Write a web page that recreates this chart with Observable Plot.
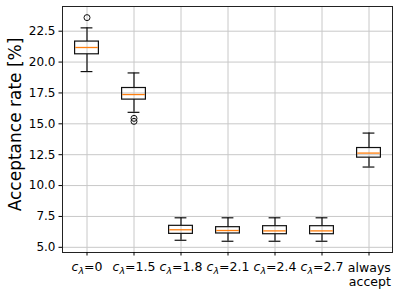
<!DOCTYPE html>
<html>
<head>
<meta charset="utf-8">
<script src="https://cdn.jsdelivr.net/npm/d3@7"></script>
<script src="https://cdn.jsdelivr.net/npm/@observablehq/plot@0.6"></script>
<style>
  html, body { margin: 0; padding: 0; background: white; }
  #chart svg { display: block; }
</style>
</head>
<body>
<div id="chart"></div>
<script>
// ---- data ----
const cValues = ["0", "1.5", "1.8", "2.1", "2.4", "2.7"];
const tickLabels = [...cValues.map(v => `c_λ=${v}`), "always\naccept"];
const lowWhisker  = [19.23, 15.93, 5.57, 5.49, 5.49, 5.49, 11.50];
const q1          = [20.63, 16.96, 6.09, 6.12, 6.06, 6.06, 12.26];
const median      = [21.18, 17.37, 6.42, 6.36, 6.33, 6.33, 12.63];
const q3          = [21.66, 17.90, 6.74, 6.63, 6.71, 6.71, 13.04];
const highWhisker = [22.77, 19.12, 7.39, 7.39, 7.39, 7.39, 14.25];
const outlierCat   = [0, 1, 1];
const outlierValue = [23.6, 15.44, 15.2];
const yTicks = [5.0, 7.5, 10.0, 12.5, 15.0, 17.5, 20.0, 22.5];
const yLabel = "Acceptance rate [%]";

// ---- tables for Plot ----
const stats = tickLabels.map((cat, i) => ({
  cat, lo: lowWhisker[i], q1: q1[i], med: median[i], q3: q3[i], hi: highWhisker[i]
}));
const outliers = outlierCat.map((c, i) => ({cat: tickLabels[c], v: outlierValue[i]}));

const boxInset = 11.6;
const capInset = 17.6;
const ink = "#111";

const chart = Plot.plot({
  width: 399,
  height: 293,
  marginLeft: 62,
  marginRight: 7,
  marginTop: 6,
  marginBottom: 41,
  style: {fontFamily: "DejaVu Sans", fontSize: "12px", background: "white", color: "#000"},
  x: {type: "band", domain: tickLabels, padding: 0},
  y: {domain: [4.58, 24.5]},
  marks: [
    Plot.gridY(yTicks, {stroke: "#c8c8c8", strokeOpacity: 1, strokeWidth: 1}),
    Plot.ruleX(tickLabels, {x: d => d, stroke: "#c8c8c8", strokeWidth: 1}),
    Plot.frame({stroke: "#222", strokeWidth: 1}),
    Plot.axisY({ticks: yTicks, tickFormat: d => d.toFixed(1), tickSize: 3.5, tickPadding: 3.5, label: null, fontSize: 12}),
    Plot.axisX({tickSize: 3.5, tickFormat: () => "", label: null}),
    // whiskers
    Plot.ruleX(stats, {x: "cat", y1: "q3", y2: "hi", stroke: ink, strokeWidth: 1.2}),
    Plot.ruleX(stats, {x: "cat", y1: "lo", y2: "q1", stroke: ink, strokeWidth: 1.2}),
    // caps
    Plot.tickY(stats, {x: "cat", y: "hi", stroke: ink, strokeWidth: 1.2, insetLeft: capInset, insetRight: capInset}),
    Plot.tickY(stats, {x: "cat", y: "lo", stroke: ink, strokeWidth: 1.2, insetLeft: capInset, insetRight: capInset}),
    // boxes
    Plot.barY(stats, {x: "cat", y1: "q1", y2: "q3", fill: "none", stroke: ink, strokeWidth: 1.2, insetLeft: boxInset, insetRight: boxInset}),
    // medians
    Plot.tickY(stats, {x: "cat", y: "med", stroke: "#ff7f0e", strokeWidth: 1.3, insetLeft: boxInset + 0.6, insetRight: boxInset + 0.6}),
    // outliers
    Plot.dot(outliers, {x: "cat", y: "v", r: 3, stroke: ink, fill: "none", strokeWidth: 1}),
    // x tick labels
    Plot.text(stats.slice(0, 6), {x: "cat", text: "cat", frameAnchor: "bottom", lineAnchor: "top", dy: 10, fontSize: 12.5, fill: "#000"}),
    Plot.text(stats.slice(6), {x: "cat", text: "cat", frameAnchor: "bottom", lineAnchor: "top", dy: 9, dx: 21.8, textAnchor: "end", lineHeight: 1.15, fontSize: 12.5, fill: "#000"}),
    // y label
    Plot.text([yLabel], {frameAnchor: "left", textAnchor: "middle", rotate: -90, dx: -47, dy: -5, fontSize: 17, fill: "#000"})
  ]
});

// subscript lambda in the c labels
chart.querySelectorAll("text").forEach(t => {
  if (t.children.length) return;
  const m = t.textContent.match(/^c_λ=(.*)$/);
  if (!m) return;
  t.textContent = "";
  const ns = "http://www.w3.org/2000/svg";
  const a = document.createElementNS(ns, "tspan");
  a.setAttribute("font-style", "italic");
  a.textContent = "c";
  const b = document.createElementNS(ns, "tspan");
  b.setAttribute("font-style", "italic");
  b.setAttribute("font-size", "9.5");
  b.setAttribute("dy", "3");
  b.textContent = "λ";
  const c = document.createElementNS(ns, "tspan");
  c.setAttribute("dy", "-3");
  c.textContent = "=" + m[1];
  t.append(a, b, c);
});

document.getElementById("chart").append(chart);
</script>
</body>
</html>
